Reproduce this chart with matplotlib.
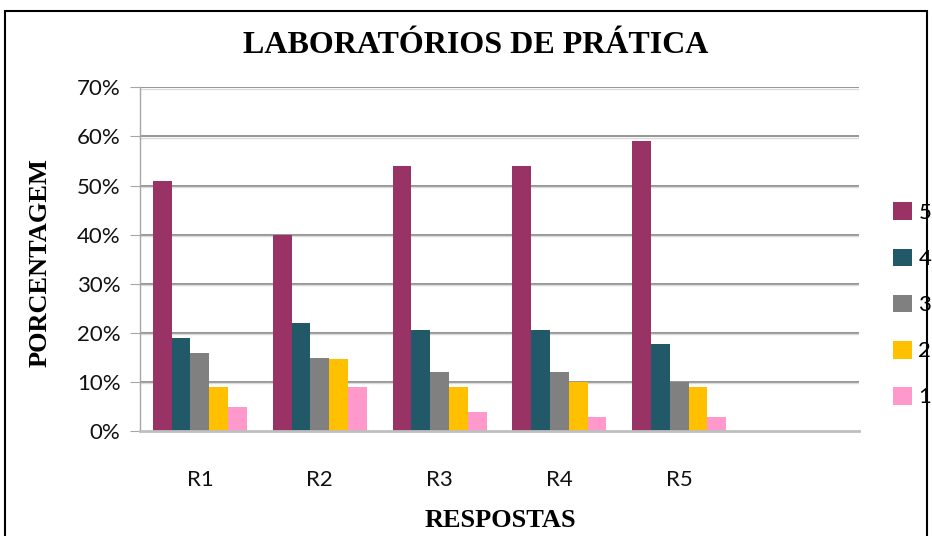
import numpy as np
import matplotlib.pyplot as plt
from matplotlib.patches import Rectangle
from matplotlib.ticker import FuncFormatter

categories = ["R1", "R2", "R3", "R4", "R5", ""]
series_names = ["5", "4", "3", "2", "1"]
serie5 = [51, 40, 54, 54, 59]
serie4 = [19, 22, 20.6, 20.6, 17.8]
serie3 = [16, 15, 12, 12, 10]
serie2 = [9, 14.8, 9, 10, 9]
serie1 = [5, 9, 4, 3, 3]
colors = ["#993366", "#215968", "#808080", "#FFC000", "#FF99CC"]

fig = plt.figure(figsize=(9.32, 5.36), dpi=100)
ax = fig.add_axes([0.1502, 0.1953, 0.7715, 0.6418])

x = np.arange(5)
width = 0.157
dados = [serie5, serie4, serie3, serie2, serie1]
for i, vals in enumerate(dados):
    ax.bar(x + (i - 2) * width, vals, width, color=colors[i],
           label=series_names[i], zorder=3)

ax.set_xlim(-0.5, 5.5)
ax.set_ylim(0, 70)
ax.set_yticks(range(0, 71, 10))
ax.yaxis.set_major_formatter(FuncFormatter(lambda v, p: "%d%%" % v))
ax.set_xticks(range(6))
ax.set_xticklabels(categories)

# grade
for v in range(10, 71, 10):
    ax.axhline(v, color="#8c8c8c", lw=1.3, zorder=1)
    ax.axhline(v - 0.25, color="#dadada", lw=1.0, zorder=1)

for s in ["top", "right"]:
    ax.spines[s].set_visible(False)
ax.spines["left"].set_color("#a6a6a6")
ax.spines["left"].set_linewidth(1.0)
ax.spines["bottom"].set_color("#bfbfbf")
ax.spines["bottom"].set_linewidth(2)
ax.spines["bottom"].set_zorder(4)

fonte = ["Lato", "DejaVu Sans"]
ax.tick_params(axis="y", length=7, color="#a6a6a6", pad=7,
               labelsize=16, labelcolor="#111111")
ax.tick_params(axis="x", length=0, pad=28, labelsize=16, labelcolor="#111111")
for lab in ax.get_yticklabels() + ax.get_xticklabels():
    lab.set_fontfamily(fonte)

fig.text(0.51, 0.915, "LABORATÓRIOS DE PRÁTICA", ha="center", va="center",
         fontsize=23, fontweight="bold", family="Liberation Serif")
fig.text(0.043, 0.511, "PORCENTAGEM", ha="center", va="center", rotation=90,
         fontsize=19, fontweight="bold", family="Liberation Serif")
fig.text(0.537, 0.028, "RESPOSTAS", ha="center", va="center",
         fontsize=19, fontweight="bold", family="Liberation Serif")

leg = ax.legend(loc="center left", bbox_to_anchor=(0.946, 0.431),
                bbox_transform=fig.transFigure, frameon=False, borderpad=0,
                prop={"family": fonte, "size": 16}, handlelength=0.85,
                handleheight=0.85, labelspacing=1.15, handletextpad=0.3)

fig.patches.append(Rectangle((5 / 932, -0.1), 922 / 932, 1.1 - 11 / 536,
                             transform=fig.transFigure, fill=False,
                             edgecolor="black", lw=1.5))

plt.savefig("out.png", dpi=100)
